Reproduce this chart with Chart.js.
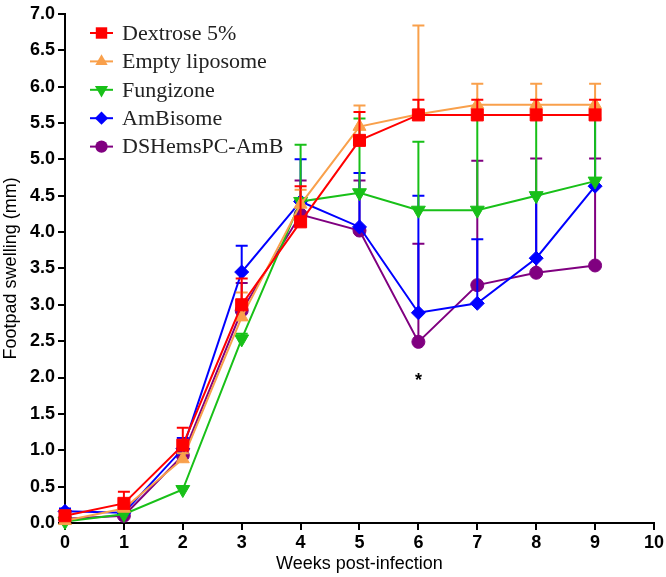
<!DOCTYPE html>
<html>
<head>
<meta charset="utf-8">
<script src="https://cdn.jsdelivr.net/npm/chart.js@4"></script>
<style>
  html, body { margin: 0; padding: 0; background: #fff; }
  #wrap { width: 666px; height: 577px; position: relative; }
</style>
</head>
<body>
<div id="wrap"><canvas id="myChart" width="666" height="577"></canvas></div>
<script>
// weeks post-infection
const weeks = [0, 1, 2, 3, 4, 5, 6, 7, 8, 9];

// mean footpad swelling (mm) and upper error (SEM) per group
const dextrose = [0.10, 0.27, 1.07, 3.00, 4.14, 5.26, 5.61, 5.61, 5.61, 5.61];
const dextroseErr = [0.05, 0.16, 0.24, 0.36, 0.49, 0.39, 0.21, 0.21, 0.21, 0.21];

const emptyLipo = [0.03, 0.20, 0.88, 2.83, 4.38, 5.45, 5.62, 5.75, 5.75, 5.75];
const emptyLipoErr = [0.02, 0.06, 0.08, 0.34, 0.20, 0.29, 1.22, 0.29, 0.29, 0.29];

const fungizone = [0.02, 0.12, 0.46, 2.53, 4.42, 4.54, 4.30, 4.30, 4.50, 4.70];
const fungizoneErr = [0.01, 0.03, 0.04, 0.07, 0.78, 1.02, 0.94, 1.27, 1.07, 0.87];

const ambisome = [0.16, 0.14, 1.02, 3.45, 4.42, 4.07, 2.89, 3.02, 3.64, 4.63];
const ambisomeErr = [0.04, 0.03, 0.15, 0.36, 0.58, 0.74, 1.61, 0.88, 0.88, 0.92];

const dshems = [0.06, 0.10, 0.93, 2.92, 4.24, 4.02, 2.49, 3.27, 3.44, 3.54];
const dshemsErr = [0.02, 0.03, 0.07, 0.38, 0.47, 0.69, 1.35, 1.71, 1.57, 1.47];

const yTicks = [0, 0.5, 1, 1.5, 2, 2.5, 3, 3.5, 4, 4.5, 5, 5.5, 6, 6.5, 7];
const xTicks = [0, 1, 2, 3, 4, 5, 6, 7, 8, 9, 10];

// significance mark
const starWeek = 6;
const starValue = 2.0;

function toPoints(vals) {
  return weeks.map((w, i) => ({ x: w, y: vals[i] }));
}

function series(label, vals, errs, color, style, radius, rotation) {
  return {
    label: label,
    data: toPoints(vals),
    errs: errs,
    borderColor: color,
    backgroundColor: color,
    pointBackgroundColor: color,
    pointBorderColor: color,
    pointStyle: style,
    pointRadius: radius,
    pointRotation: rotation || 0,
    borderWidth: 2,
    pointBorderWidth: 1,
    tension: 0,
    clip: false
  };
}

const datasets = [
  series("Dextrose 5%", dextrose, dextroseErr, "#ff0000", "rect", 8.5),
  series("Empty liposome", emptyLipo, emptyLipoErr, "#f9a04b", "triangle", 7.5),
  series("Fungizone", fungizone, fungizoneErr, "#18c018", "triangle", 8, 180),
  series("AmBisome", ambisome, ambisomeErr, "#0000ff", "rectRot", 7),
  series("DSHemsPC-AmB", dshems, dshemsErr, "#800080", "circle", 6.5)
];

// upper error bars drawn just before each line
const errorBars = {
  id: "errorBars",
  beforeDatasetDraw(chart, args) {
    const ds = chart.data.datasets[args.index];
    const meta = args.meta;
    const y = chart.scales.y;
    const ctx = chart.ctx;
    ctx.save();
    ctx.strokeStyle = ds.borderColor;
    ctx.lineWidth = 2;
    meta.data.forEach((pt, i) => {
      const top = y.getPixelForValue(ds.data[i].y + ds.errs[i]);
      ctx.beginPath();
      ctx.moveTo(pt.x, pt.y);
      ctx.lineTo(pt.x, top);
      ctx.moveTo(pt.x - 6, top);
      ctx.lineTo(pt.x + 6, top);
      ctx.stroke();
    });
    ctx.restore();
  }
};

function marker(ctx, style, rotation, x, y, r) {
  ctx.beginPath();
  if (style === "rect") {
    const s = r * Math.SQRT1_2;
    ctx.rect(x - s, y - s, 2 * s, 2 * s);
  } else if (style === "rectRot") {
    ctx.moveTo(x, y - r);
    ctx.lineTo(x + r, y);
    ctx.lineTo(x, y + r);
    ctx.lineTo(x - r, y);
    ctx.closePath();
  } else if (style === "circle") {
    ctx.arc(x, y, r, 0, Math.PI * 2);
  } else {
    const d = rotation === 180 ? -1 : 1;
    ctx.moveTo(x, y - d * r);
    ctx.lineTo(x + r * 0.866, y + d * r * 0.5);
    ctx.lineTo(x - r * 0.866, y + d * r * 0.5);
    ctx.closePath();
  }
  ctx.fill();
}

const insideLegend = {
  id: "insideLegend",
  afterDraw(chart) {
    const ctx = chart.ctx;
    ctx.save();
    ctx.font = "22px 'Liberation Serif', 'Times New Roman', serif";
    ctx.textBaseline = "middle";
    ctx.textAlign = "left";
    chart.data.datasets.forEach((ds, i) => {
      const cy = 33 + i * 28.4;
      ctx.strokeStyle = ds.borderColor;
      ctx.fillStyle = ds.borderColor;
      ctx.lineWidth = 2;
      ctx.beginPath();
      ctx.moveTo(90, cy);
      ctx.lineTo(113, cy);
      ctx.stroke();
      marker(ctx, ds.pointStyle, ds.pointRotation, 101.5, cy, ds.pointRadius * 0.95);
      ctx.fillStyle = "#222";
      ctx.fillText(ds.label, 122, cy + 1);
    });
    // asterisk
    const px = chart.scales.x.getPixelForValue(starWeek);
    const py = chart.scales.y.getPixelForValue(starValue);
    ctx.font = "bold 18px 'Liberation Sans', Arial, sans-serif";
    ctx.textAlign = "center";
    ctx.fillStyle = "#000";
    ctx.fillText("*", px, py + 4);
    ctx.restore();
  }
};

const ctx = document.getElementById("myChart");
new Chart(ctx, {
  type: "line",
  data: { datasets: datasets },
  options: {
    responsive: false,
    animation: false,
    layout: { padding: { top: 9, right: 11, left: 0, bottom: 0 } },
    plugins: {
      legend: { display: false },
      tooltip: { enabled: false }
    },
    scales: {
      x: {
        type: "linear",
        min: 0,
        max: 10,
        afterFit: (s) => { s.height = 54; },
        afterBuildTicks: (s) => { s.ticks = xTicks.map(v => ({ value: v })); },
        ticks: {
          color: "#000",
          padding: 2,
          font: { family: "'Liberation Sans', Arial, sans-serif", size: 18, weight: "bold" },
          callback: (v) => String(v)
        },
        grid: { drawOnChartArea: false, drawTicks: true, tickLength: 7, color: "#000", lineWidth: 2 },
        border: { color: "#000", width: 2 },
        title: {
          display: true,
          text: "Weeks post-infection",
          color: "#000",
          padding: { top: 0, bottom: 2 },
          font: { family: "'Liberation Sans', Arial, sans-serif", size: 18 }
        }
      },
      y: {
        type: "linear",
        min: 0,
        max: 7,
        afterFit: (s) => { s.width = 65; },
        afterBuildTicks: (s) => { s.ticks = yTicks.map(v => ({ value: v })); },
        ticks: {
          color: "#000",
          padding: 3,
          font: { family: "'Liberation Sans', Arial, sans-serif", size: 18, weight: "bold" },
          callback: (v) => Number(v).toFixed(1)
        },
        grid: { drawOnChartArea: false, drawTicks: true, tickLength: 7, color: "#000", lineWidth: 2 },
        border: { color: "#000", width: 2 },
        title: {
          display: true,
          text: "Footpad swelling (mm)",
          color: "#000",
          padding: { top: 0, bottom: 0 },
          font: { family: "'Liberation Sans', Arial, sans-serif", size: 18 }
        }
      }
    }
  },
  plugins: [errorBars, insideLegend]
});
</script>
</body>
</html>
